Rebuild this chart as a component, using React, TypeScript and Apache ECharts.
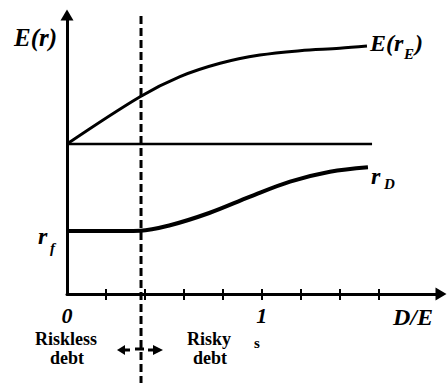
import React, { useEffect, useRef } from "react";
import * as echarts from "echarts";

// ---- data ----
const xTickValues = [0.2, 0.4, 0.6, 0.8, 1.0, 1.2, 1.4, 1.6];
const xLabelValues = [0, 1];
const equityX = [0, 0.375, 0.58, 0.786, 0.99, 1.196, 1.4, 1.54];
const equityReturn = [10, 13.15, 14.49, 15.38, 15.93, 16.22, 16.38, 16.53];
const assetX = [0, 1.566];
const assetReturn = [10, 10];
const debtX = [0, 0.2, 0.375, 0.52, 0.73, 0.94, 1.145, 1.35, 1.545];
const debtReturn = [4.2, 4.2, 4.22, 4.55, 5.4, 6.49, 7.49, 8.15, 8.45];
const risklessLimit = 0.38;

const X_MAX = 1.92;
const Y_MAX = 18.6;

const SERIF = "Liberation Serif";

const zip = (xs: number[], ys: number[]) => xs.map((x, i) => [x, ys[i]]);

export default function App() {
  const ref = useRef<HTMLDivElement>(null);
  useEffect(() => {
    if (!ref.current) return;
    const chart = echarts.init(ref.current, undefined, { renderer: "svg" });
    const black = "#000";
    chart.setOption({
      animation: false,
      grid: { left: 67, top: 15, width: 374, height: 279 },
      xAxis: [
        {
          type: "value",
          min: 0,
          max: X_MAX,
          position: "bottom",
          axisLine: {
            show: true,
            onZero: false,
            symbol: ["none", "triangle"],
            symbolSize: [13, 11],
            lineStyle: { color: black, width: 3 },
          },
          axisTick: {
            show: true,
            customValues: xTickValues,
            length: 6,
            lineStyle: { color: black, width: 2 },
          },
          axisLabel: {
            show: true,
            customValues: xLabelValues,
            margin: 10,
            color: black,
            fontFamily: SERIF,
            fontStyle: "italic",
            fontWeight: "bold",
            fontSize: 22,
            formatter: (v: number) => String(v),
          },
          splitLine: { show: false },
        },
        {
          type: "value",
          min: 0,
          max: X_MAX,
          position: "bottom",
          axisLine: { show: false, onZero: false },
          axisTick: {
            show: true,
            inside: true,
            customValues: xTickValues,
            length: 5,
            lineStyle: { color: black, width: 2 },
          },
          axisLabel: { show: false },
          splitLine: { show: false },
        },
      ],
      yAxis: {
        type: "value",
        min: 0,
        max: Y_MAX,
        axisLine: {
          show: true,
          onZero: false,
          symbol: ["none", "triangle"],
          symbolSize: [13, 11],
          lineStyle: { color: black, width: 3 },
        },
        axisTick: { show: false },
        axisLabel: { show: false },
        splitLine: { show: false },
      },
      series: [
        {
          type: "line",
          data: zip(equityX, equityReturn),
          smooth: 0.35,
          showSymbol: false,
          silent: true,
          lineStyle: { color: black, width: 3 },
        },
        {
          type: "line",
          data: zip(assetX, assetReturn),
          showSymbol: false,
          silent: true,
          lineStyle: { color: black, width: 2.5 },
        },
        {
          type: "line",
          data: zip(debtX, debtReturn),
          smooth: 0.35,
          showSymbol: false,
          silent: true,
          lineStyle: { color: black, width: 4 },
        },
      ],
    });

    const [dx] = chart.convertToPixel({ gridIndex: 0 }, [risklessLimit, 0]) as number[];
    const ay = 350;
    const t = (
      text: string,
      x: number,
      y: number,
      size: number,
      italic: boolean,
      align = "left"
    ) => ({
      type: "text",
      x,
      y,
      silent: true,
      style: {
        text,
        fontFamily: SERIF,
        fontSize: size,
        fontWeight: "bold",
        fontStyle: italic ? "italic" : "normal",
        fill: black,
        align,
        verticalAlign: "middle",
      },
    });
    chart.setOption({
      graphic: [
        {
          type: "line",
          silent: true,
          shape: { x1: dx, y1: 16, x2: dx, y2: 383 },
          style: { stroke: black, lineWidth: 3, lineDash: [8, 4] },
        },
        // double arrow
        {
          type: "polygon",
          silent: true,
          shape: { points: [[dx - 24, ay], [dx - 16, ay - 5], [dx - 16, ay + 5]] },
          style: { fill: black },
        },
        {
          type: "line",
          silent: true,
          shape: { x1: dx - 17, y1: ay, x2: dx - 11, y2: ay },
          style: { stroke: black, lineWidth: 3 },
        },
        {
          type: "line",
          silent: true,
          shape: { x1: dx - 6, y1: ay - 1, x2: dx + 3, y2: ay - 1 },
          style: { stroke: black, lineWidth: 3 },
        },
        {
          type: "line",
          silent: true,
          shape: { x1: dx + 7, y1: ay, x2: dx + 13, y2: ay },
          style: { stroke: black, lineWidth: 3 },
        },
        {
          type: "polygon",
          silent: true,
          shape: { points: [[dx + 22, ay], [dx + 12, ay - 5], [dx + 12, ay + 5]] },
          style: { fill: black },
        },
        t("E(r)", 14, 37, 25, true),
        t("E(r", 370, 43, 24, true),
        t("E", 404, 54, 15, true),
        t(")", 415, 43, 24, true),
        t("r", 371, 176, 24, true),
        t("D", 384, 184, 15, true),
        t("r", 38, 236, 24, true),
        t("f", 50, 248, 15, true),
        t("D/E", 393, 317, 24, true),
        t("Riskless", 66, 339, 18, false, "center"),
        t("debt", 67, 358, 18, false, "center"),
        t("Risky", 209, 339, 18, false, "center"),
        t("debt", 210, 358, 18, false, "center"),
        t("s", 257, 343, 15, false, "center"),
      ],
    });
    return () => chart.dispose();
  }, []);
  return (
    <div
      ref={ref}
      style={{ position: "fixed", left: 0, top: 0, width: 447, height: 383, background: "#fff" }}
    />
  );
}
